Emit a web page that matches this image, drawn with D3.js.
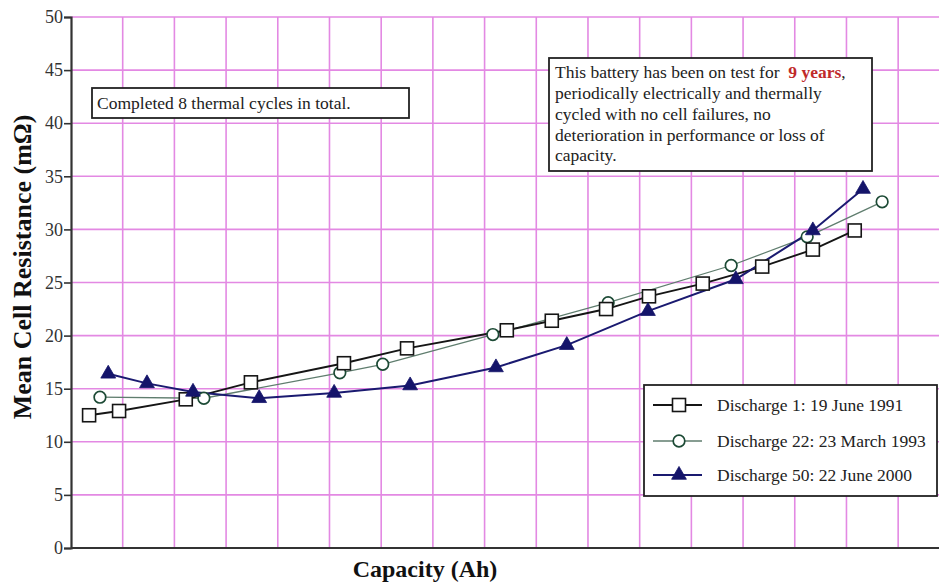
<!DOCTYPE html>
<html>
<head>
<meta charset="utf-8">
<script src="https://cdn.jsdelivr.net/npm/d3@7"></script>
<style>
  html, body { margin: 0; padding: 0; background: #fff; }
  svg { display: block; }
</style>
</head>
<body>
<svg id="chart" width="939" height="585"></svg>
<script>
// Capacity positions (grid units) and mean cell resistance (mΩ) per discharge
const dis1Capacity = [0.35, 0.93, 2.22, 3.48, 5.28, 6.50, 8.43, 9.30, 10.35, 11.18, 12.22, 13.37, 14.35, 15.16];
const dis1Resistance = [12.5, 12.9, 14.0, 15.6, 17.4, 18.8, 20.5, 21.4, 22.5, 23.7, 24.9, 26.5, 28.1, 29.9];

const dis22Capacity = [0.56, 2.57, 5.20, 6.03, 8.16, 10.39, 12.77, 14.24, 15.69];
const dis22Resistance = [14.2, 14.1, 16.5, 17.3, 20.1, 23.1, 26.6, 29.3, 32.6];

const dis50Capacity = [0.72, 1.47, 2.36, 3.64, 5.09, 6.56, 8.22, 9.59, 11.16, 12.86, 14.35, 15.32];
const dis50Resistance = [16.4, 15.5, 14.7, 14.1, 14.6, 15.3, 17.0, 19.1, 22.3, 25.3, 29.9, 33.8];

const yTicks = [0, 5, 10, 15, 20, 25, 30, 35, 40, 45, 50];
const xGrid = d3.range(1, 17);

const seriesNames = [
  "Discharge 1: 19 June 1991",
  "Discharge 22: 23 March 1993",
  "Discharge 50: 22 June 2000"
];

const FONT = "Liberation Serif";
const svg = d3.select("#chart");
const plotLeft = 71, plotRight = 939, plotTop = 17, plotBottom = 548;

const x = d3.scaleLinear().domain([0, 16.79]).range([plotLeft, plotRight]);
const y = d3.scaleLinear().domain([0, 50]).range([plotBottom, plotTop]);

const gridColor = "#e389e3";

// grid
const grid = svg.append("g");
grid.selectAll("line.v").data(xGrid).join("line")
  .attr("x1", d => x(d)).attr("x2", d => x(d))
  .attr("y1", plotTop).attr("y2", plotBottom)
  .attr("stroke", gridColor).attr("stroke-width", 1.6);
grid.selectAll("line.h").data(yTicks.filter(d => d > 0)).join("line")
  .attr("x1", plotLeft).attr("x2", plotRight)
  .attr("y1", d => y(d)).attr("y2", d => y(d))
  .attr("stroke", gridColor).attr("stroke-width", 1.6);

// axes
const yAxis = svg.append("g")
  .attr("transform", `translate(${plotLeft},0)`)
  .call(d3.axisLeft(y).tickValues(yTicks).tickSize(7).tickPadding(1).tickFormat(d3.format("d")));
yAxis.select(".domain").attr("stroke", "#333").attr("stroke-width", 2.2);
yAxis.selectAll(".tick line").attr("stroke", "#333").attr("stroke-width", 1.6);
yAxis.selectAll(".tick text")
  .style("font-family", FONT).style("font-size", "18px")
  .attr("fill", "#333");

svg.append("line")
  .attr("x1", plotLeft).attr("x2", plotRight)
  .attr("y1", plotBottom).attr("y2", plotBottom)
  .attr("stroke", "#333").attr("stroke-width", 2.2);

function label(xp, yp, size, txt) {
  return svg.append("text").attr("x", xp).attr("y", yp)
    .style("font-family", FONT).style("font-size", size + "px")
    .attr("fill", "#222").text(txt);
}

// axis titles
svg.append("text")
  .attr("transform", "translate(31,267) rotate(-90)")
  .attr("text-anchor", "middle")
  .style("font-family", FONT).style("font-size", "26px").style("font-weight", "bold")
  .attr("fill", "#111")
  .text("Mean Cell Resistance (mΩ)");

svg.append("text")
  .attr("x", 425).attr("y", 577)
  .attr("text-anchor", "middle")
  .style("font-family", FONT).style("font-size", "24px").style("font-weight", "bold")
  .attr("fill", "#111")
  .text("Capacity (Ah)");

// series
const series = [
  { cap: dis1Capacity, res: dis1Resistance, line: "#151515", lw: 1.9, marker: "square" },
  { cap: dis22Capacity, res: dis22Resistance, line: "#5f7d6e", lw: 1.3, marker: "circle" },
  { cap: dis50Capacity, res: dis50Resistance, line: "#1a1a70", lw: 2.0, marker: "triangle" }
];

const lineGen = d3.line().x(d => x(d[0])).y(d => y(d[1]));

function drawMarker(g, type, cx, cy) {
  if (type === "square") {
    g.append("rect").attr("x", cx - 6.5).attr("y", cy - 6.5).attr("width", 13).attr("height", 13)
      .attr("fill", "#fff").attr("stroke", "#151515").attr("stroke-width", 1.6);
  } else if (type === "circle") {
    g.append("circle").attr("cx", cx).attr("cy", cy).attr("r", 5.8)
      .attr("fill", "#fff").attr("stroke", "#1c4a35").attr("stroke-width", 1.7);
  } else {
    g.append("path")
      .attr("d", d3.symbol().type(d3.symbolTriangle).size(95)())
      .attr("transform", `translate(${cx},${cy})`)
      .attr("fill", "#14146a").attr("stroke", "#14146a").attr("stroke-width", 0.8);
  }
}

// lines first, then markers (circles, squares, triangles on top)
[1, 0, 2].forEach(i => {
  const s = series[i];
  const pts = s.cap.map((c, k) => [c, s.res[k]]);
  svg.append("path").datum(pts)
    .attr("d", lineGen)
    .attr("fill", "none").attr("stroke", s.line).attr("stroke-width", s.lw);
});
[1, 0, 2].forEach(i => {
  const s = series[i];
  const g = svg.append("g");
  s.cap.forEach((c, k) => drawMarker(g, s.marker, x(c), y(s.res[k])));
});

// note boxes
svg.append("rect").attr("x", 92).attr("y", 88).attr("width", 317).attr("height", 30)
  .attr("fill", "#fff").attr("stroke", "#222").attr("stroke-width", 1.8);
label(97, 109, 17.5, "Completed 8 thermal cycles in total.");

svg.append("rect").attr("x", 549).attr("y", 58).attr("width", 323).attr("height", 113)
  .attr("fill", "#fff").attr("stroke", "#222").attr("stroke-width", 1.8);
const noteLines = [
  "periodically electrically and thermally",
  "cycled with no cell failures, no",
  "deterioration in performance or loss of",
  "capacity."
];
const first = label(555, 78, 17.5, null);
first.append("tspan").text("This battery has been on test for ");
first.append("tspan").attr("fill", "#c02a2a").style("font-weight", "bold").text("\u00a09 years");
first.append("tspan").text(",");
noteLines.forEach((t, i) => label(555, 99 + i * 20.8, 17.5, t));

// legend
svg.append("rect").attr("x", 644).attr("y", 385).attr("width", 293).attr("height", 111)
  .attr("fill", "#fff").attr("stroke", "#222").attr("stroke-width", 1.8);
const legendY = [405, 441, 475];
series.forEach((s, i) => {
  const g = svg.append("g");
  g.append("line").attr("x1", 653).attr("x2", 702)
    .attr("y1", legendY[i]).attr("y2", legendY[i])
    .attr("stroke", s.line).attr("stroke-width", s.lw);
  drawMarker(g, s.marker, 679, legendY[i]);
  label(717, legendY[i] + 6, 17.5, seriesNames[i]);
});
</script>
</body>
</html>
